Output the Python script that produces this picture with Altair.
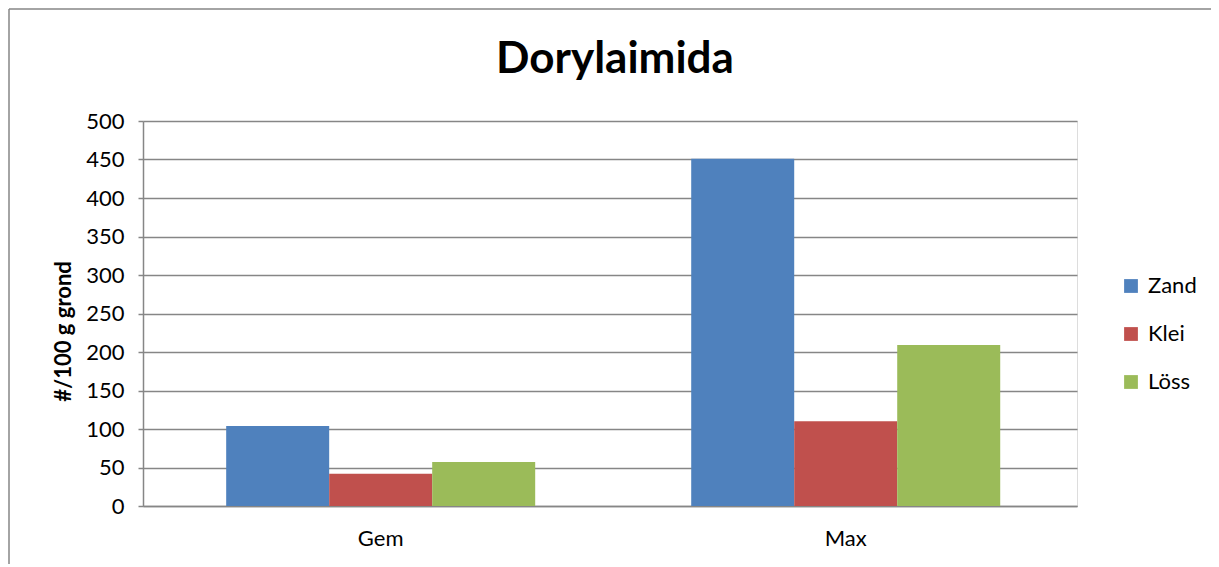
import altair as alt
import pandas as pd

categories = ["Gem", "Max"]
soils = ["Zand", "Klei", "Löss"]
zand = [104, 451]
klei = [42, 110]
loss = [57, 209]
colors = ["#4F81BD", "#C0504D", "#9BBB59"]

rows = []
for i, c in enumerate(categories):
    for s, vals in zip(soils, [zand, klei, loss]):
        rows.append({"categorie": c, "bodem": s, "waarde": vals[i]})
df = pd.DataFrame(rows)

FONT = "Lato"
GRAY = "#868686"

bars = alt.Chart(df).mark_bar(stroke=None).encode(
    x=alt.X("categorie:N", sort=categories,
            scale=alt.Scale(paddingInner=0.3355, paddingOuter=0.172, align=0.52),
            axis=alt.Axis(title=None, labelAngle=0, ticks=False, domain=True,
                          domainColor=GRAY, domainWidth=1.5,
                          labelFontSize=22, labelPadding=22, labelFont=FONT,
                          labelColor="#000000", grid=False)),
    xOffset=alt.XOffset("bodem:N", sort=soils, scale=alt.Scale(paddingInner=0, paddingOuter=0)),
    y=alt.Y("waarde:Q", scale=alt.Scale(domain=[0, 500], nice=False),
            axis=alt.Axis(title="#/100 g grond", values=list(range(0, 501, 50)),
                          titleFontSize=22, titleFont=FONT, titleFontWeight="bold",
                          titleColor="#000000", titlePadding=10, titleY=210,
                          labelFontSize=22, labelFont=FONT, labelColor="#000000",
                          labelPadding=14, tickSize=5, tickColor=GRAY,
                          tickWidth=1.5, domainColor=GRAY, domainWidth=1.5,
                          gridColor=GRAY, gridWidth=1.5)),
    color=alt.Color("bodem:N", sort=soils,
                    scale=alt.Scale(domain=soils, range=colors),
                    legend=alt.Legend(title=None, orient="none", legendX=977, legendY=154,
                                      symbolType="square", symbolSize=190,
                                      symbolStrokeWidth=0, labelFontSize=22,
                                      labelFont=FONT, labelColor="#000000",
                                      rowPadding=26, labelOffset=6)),
)

frame_left = alt.Chart(pd.DataFrame({"k": [0]})).mark_rule(color=GRAY, strokeWidth=1.5).encode(
    x=alt.value(-134), y=alt.value(-112), y2=alt.value(470)
)
frame_top = alt.Chart(pd.DataFrame({"k": [0]})).mark_rule(color=GRAY, strokeWidth=1.5).encode(
    x=alt.value(-134), x2=alt.value(1080), y=alt.value(-112)
)

chart = alt.layer(bars, frame_left, frame_top).properties(
    width=934, height=385,
    title=alt.TitleParams("Dorylaimida", fontSize=44, font=FONT, fontWeight="bold",
                          color="#000000", anchor="middle", offset=-74, dx=5),
    padding={"left": 135, "top": 113, "right": 134, "bottom": 58},
    autosize=alt.AutoSizeParams(type="none"),
).configure_view(stroke=None).configure(background="#FFFFFF")

chart.save("out.html", embed_options={"renderer": "svg", "actions": False})
